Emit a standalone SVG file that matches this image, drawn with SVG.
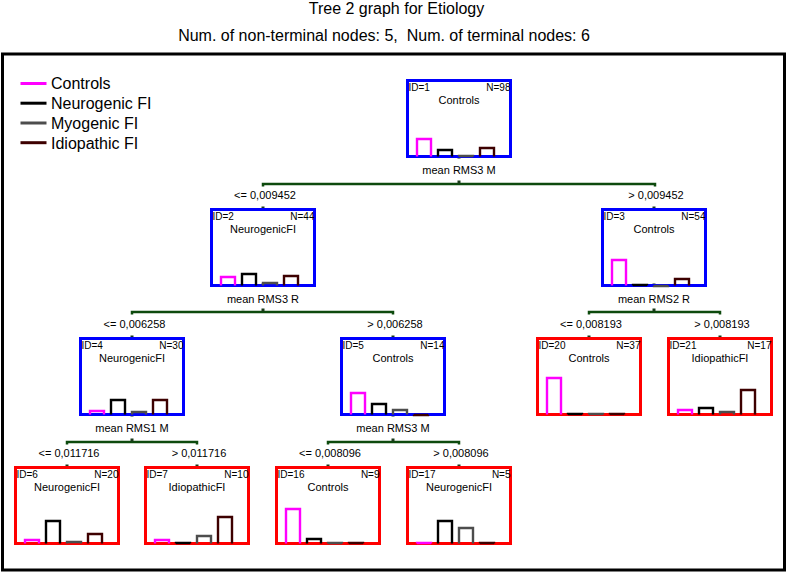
<svg xmlns="http://www.w3.org/2000/svg" width="787" height="572" viewBox="0 0 787 572">
<style>
text{font-family:"Liberation Sans",Arial,sans-serif;fill:#000}
.h{font-size:16px;text-anchor:middle}
.lg{font-size:16px}
.id{font-size:10px}
.n{font-size:10px;text-anchor:end}
.nm{font-size:11px;text-anchor:middle}
.sp{font-size:11px;text-anchor:middle}
.el{font-size:11px;text-anchor:middle}
.nb{fill:none;stroke:#0000ff;stroke-width:3}
.lb{fill:none;stroke:#ff0000;stroke-width:3}
.b{fill:none;stroke-width:2.4}
.c1{stroke:#ff00ff}.c2{stroke:#000}.c3{stroke:#4d4d4d}.c4{stroke:#3d0000}
.cn{fill:none;stroke:#0d4a0d;stroke-width:2.5}
.d{fill:#1a3a1a}
</style>
<rect width="787" height="572" fill="#fff"/>
<text class="h" x="396.5" y="14">Tree 2 graph for Etiology</text>
<text class="h" x="384" y="40.5">Num. of non-terminal nodes: 5,&#160; Num. of terminal nodes: 6</text>
<rect x="2.5" y="54" width="782" height="516" fill="none" stroke="#000" stroke-width="3"/>
<g id="legend">
<line x1="20.5" y1="83.5" x2="46.5" y2="83.5" stroke="#ff00ff" stroke-width="3"/>
<text class="lg" x="51" y="89.3">Controls</text>
<line x1="20.5" y1="103.2" x2="46.5" y2="103.2" stroke="#000" stroke-width="3"/>
<text class="lg" x="51" y="109.2">Neurogenic FI</text>
<line x1="20.5" y1="123" x2="46.5" y2="123" stroke="#4d4d4d" stroke-width="3"/>
<text class="lg" x="51" y="129">Myogenic FI</text>
<line x1="20.5" y1="142.7" x2="46.5" y2="142.7" stroke="#3d0000" stroke-width="3"/>
<text class="lg" x="51" y="148.7">Idiopathic FI</text>
</g>
<g id="connectors">
<path class="cn" d="M263,186.5V184H655V186.5"/>
<path class="cn" d="M132,314.5V312H393V314.5"/>
<path class="cn" d="M589,314.5V312H720V314.5"/>
<path class="cn" d="M67,444.5V442H197V444.5"/>
<path class="cn" d="M328,444.5V442H459V444.5"/>
<rect class="d" x="457.5" y="155.5" width="3" height="3"/>
<rect class="d" x="457.5" y="180.5" width="3" height="3"/>
<rect class="d" x="261.5" y="206.5" width="3" height="3"/>
<rect class="d" x="652.5" y="206.5" width="3" height="3"/>
<rect class="d" x="261.5" y="283.5" width="3" height="3"/>
<rect class="d" x="261.5" y="308.5" width="3" height="3"/>
<rect class="d" x="652.5" y="283.5" width="3" height="3"/>
<rect class="d" x="652.5" y="308.5" width="3" height="3"/>
<rect class="d" x="130.5" y="335.5" width="3" height="3"/>
<rect class="d" x="391.5" y="335.5" width="3" height="3"/>
<rect class="d" x="587.5" y="335.5" width="3" height="3"/>
<rect class="d" x="718.5" y="335.5" width="3" height="3"/>
<rect class="d" x="130.5" y="413.5" width="3" height="3"/>
<rect class="d" x="130.5" y="438.5" width="3" height="3"/>
<rect class="d" x="391.5" y="413.5" width="3" height="3"/>
<rect class="d" x="391.5" y="438.5" width="3" height="3"/>
<rect class="d" x="65.5" y="464.5" width="3" height="3"/>
<rect class="d" x="195.5" y="464.5" width="3" height="3"/>
<rect class="d" x="326.5" y="464.5" width="3" height="3"/>
<rect class="d" x="457.5" y="464.5" width="3" height="3"/>
<text class="el" x="265" y="198.5">&lt;= 0,009452</text>
<text class="el" x="656" y="198.5">&gt; 0,009452</text>
<text class="el" x="134.5" y="327.5">&lt;= 0,006258</text>
<text class="el" x="395" y="327.5">&gt; 0,006258</text>
<text class="el" x="591" y="327.5">&lt;= 0,008193</text>
<text class="el" x="722" y="327.5">&gt; 0,008193</text>
<text class="el" x="69" y="456.5">&lt;= 0,011716</text>
<text class="el" x="199" y="456.5">&gt; 0,011716</text>
<text class="el" x="330" y="456.5">&lt;= 0,008096</text>
<text class="el" x="461" y="456.5">&gt; 0,008096</text>
</g>
<g id="node1" transform="translate(406,79)">
<rect class="nb" x="1.5" y="1.5" width="103" height="76"/>
<text class="id" x="2.5" y="12">ID=1</text><text class="n" x="104.5" y="12">N=98</text>
<text class="nm" x="53" y="24.5">Controls</text>
<path class="b c1" d="M11,77.5V60H25V77.5"/><path class="b c2" d="M32,77.5V71H46V77.5"/><path class="b c3" d="M53,77.5V77H67V77.5"/><path class="b c4" d="M74,77.5V69H88V77.5"/>
<text class="sp" x="53" y="95">mean RMS3 M</text>
</g>
<g id="node2" transform="translate(210,208)">
<rect class="nb" x="1.5" y="1.5" width="103" height="76"/>
<text class="id" x="2.5" y="12">ID=2</text><text class="n" x="104.5" y="12">N=44</text>
<text class="nm" x="53" y="24.5">NeurogenicFI</text>
<path class="b c1" d="M11,77.5V69H25V77.5"/><path class="b c2" d="M32,77.5V66H46V77.5"/><path class="b c3" d="M53,77.5V75H67V77.5"/><path class="b c4" d="M74,77.5V68H88V77.5"/>
<text class="sp" x="53" y="94.5">mean RMS3 R</text>
</g>
<g id="node3" transform="translate(601,208)">
<rect class="nb" x="1.5" y="1.5" width="103" height="76"/>
<text class="id" x="2.5" y="12">ID=3</text><text class="n" x="104.5" y="12">N=54</text>
<text class="nm" x="53" y="24.5">Controls</text>
<path class="b c1" d="M11,77.5V52H25V77.5"/><path class="b c2" d="M32,77.5V77H46V77.5"/><path class="b c3" d="M53,77.5V78H67V77.5"/><path class="b c4" d="M74,77.5V71H88V77.5"/>
<text class="sp" x="53" y="94.5">mean RMS2 R</text>
</g>
<g id="node4" transform="translate(79,337)">
<rect class="nb" x="1.5" y="1.5" width="103" height="76"/>
<text class="id" x="2.5" y="12">ID=4</text><text class="n" x="104.5" y="12">N=30</text>
<text class="nm" x="53" y="24.5">NeurogenicFI</text>
<path class="b c1" d="M11,77.5V74H25V77.5"/><path class="b c2" d="M32,77.5V63H46V77.5"/><path class="b c3" d="M53,77.5V75H67V77.5"/><path class="b c4" d="M74,77.5V63H88V77.5"/>
<text class="sp" x="53" y="95">mean RMS1 M</text>
</g>
<g id="node5" transform="translate(340,337)">
<rect class="nb" x="1.5" y="1.5" width="103" height="76"/>
<text class="id" x="2.5" y="12">ID=5</text><text class="n" x="104.5" y="12">N=14</text>
<text class="nm" x="53" y="24.5">Controls</text>
<path class="b c1" d="M11,77.5V56H25V77.5"/><path class="b c2" d="M32,77.5V67H46V77.5"/><path class="b c3" d="M53,77.5V73H67V77.5"/><path class="b c4" d="M74,77.5V78H88V77.5"/>
<text class="sp" x="53" y="95">mean RMS3 M</text>
</g>
<g id="node20" transform="translate(536,337)">
<rect class="lb" x="1.5" y="1.5" width="103" height="76"/>
<text class="id" x="2.5" y="12">ID=20</text><text class="n" x="104.5" y="12">N=37</text>
<text class="nm" x="53" y="24.5">Controls</text>
<path class="b c1" d="M11,77.5V41H25V77.5"/><path class="b c2" d="M32,77.5V77H46V77.5"/><path class="b c3" d="M53,77.5V77H67V77.5"/><path class="b c4" d="M74,77.5V77H88V77.5"/>
</g>
<g id="node21" transform="translate(667,337)">
<rect class="lb" x="1.5" y="1.5" width="103" height="76"/>
<text class="id" x="2.5" y="12">ID=21</text><text class="n" x="104.5" y="12">N=17</text>
<text class="nm" x="53" y="24.5">IdiopathicFI</text>
<path class="b c1" d="M11,77.5V73H25V77.5"/><path class="b c2" d="M32,77.5V71H46V77.5"/><path class="b c3" d="M53,77.5V75H67V77.5"/><path class="b c4" d="M74,77.5V53H88V77.5"/>
</g>
<g id="node6" transform="translate(14,466)">
<rect class="lb" x="1.5" y="1.5" width="103" height="76"/>
<text class="id" x="2.5" y="12">ID=6</text><text class="n" x="104.5" y="12">N=20</text>
<text class="nm" x="53" y="24.5">NeurogenicFI</text>
<path class="b c1" d="M11,77.5V74H25V77.5"/><path class="b c2" d="M32,77.5V55H46V77.5"/><path class="b c3" d="M53,77.5V76H67V77.5"/><path class="b c4" d="M74,77.5V68H88V77.5"/>
</g>
<g id="node7" transform="translate(144,466)">
<rect class="lb" x="1.5" y="1.5" width="103" height="76"/>
<text class="id" x="2.5" y="12">ID=7</text><text class="n" x="104.5" y="12">N=10</text>
<text class="nm" x="53" y="24.5">IdiopathicFI</text>
<path class="b c1" d="M11,77.5V74H25V77.5"/><path class="b c2" d="M32,77.5V77H46V77.5"/><path class="b c3" d="M53,77.5V70H67V77.5"/><path class="b c4" d="M74,77.5V51H88V77.5"/>
</g>
<g id="node16" transform="translate(275,466)">
<rect class="lb" x="1.5" y="1.5" width="103" height="76"/>
<text class="id" x="2.5" y="12">ID=16</text><text class="n" x="104.5" y="12">N=9</text>
<text class="nm" x="53" y="24.5">Controls</text>
<path class="b c1" d="M11,77.5V43H25V77.5"/><path class="b c2" d="M32,77.5V73H46V77.5"/><path class="b c3" d="M53,77.5V77H67V77.5"/><path class="b c4" d="M74,77.5V77H88V77.5"/>
</g>
<g id="node17" transform="translate(406,466)">
<rect class="lb" x="1.5" y="1.5" width="103" height="76"/>
<text class="id" x="2.5" y="12">ID=17</text><text class="n" x="104.5" y="12">N=5</text>
<text class="nm" x="53" y="24.5">NeurogenicFI</text>
<path class="b c1" d="M11,77.5V77H25V77.5"/><path class="b c2" d="M32,77.5V55H46V77.5"/><path class="b c3" d="M53,77.5V62H67V77.5"/><path class="b c4" d="M74,77.5V77H88V77.5"/>
</g>
</svg>
